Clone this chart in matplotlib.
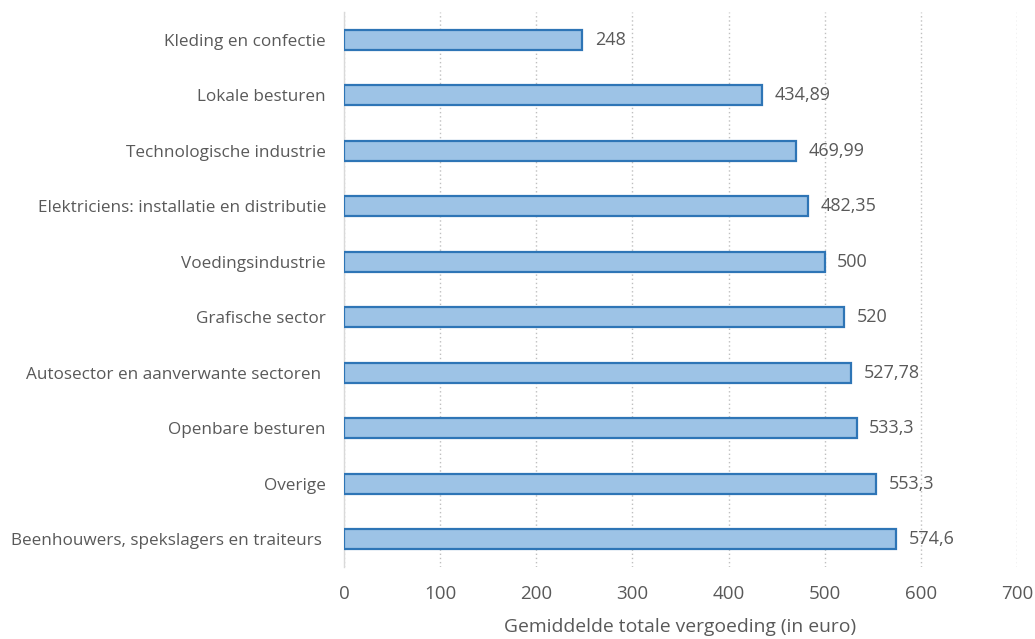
import matplotlib.pyplot as plt

sectors = [
    "Kleding en confectie",
    "Lokale besturen",
    "Technologische industrie",
    "Elektriciens: installatie en distributie",
    "Voedingsindustrie",
    "Grafische sector",
    "Autosector en aanverwante sectoren ",
    "Openbare besturen",
    "Overige",
    "Beenhouwers, spekslagers en traiteurs ",
]
values = [248, 434.89, 469.99, 482.35, 500, 520, 527.78, 533.3, 553.3, 574.6]
labels = ["248", "434,89", "469,99", "482,35", "500", "520", "527,78", "533,3", "553,3", "574,6"]
xticks = [0, 100, 200, 300, 400, 500, 600, 700]

plt.rcParams['font.family'] = ['Open Sans', 'DejaVu Sans']
text_color = "#595959"

fig = plt.figure(figsize=(10.35, 6.39), dpi=100)
ax = fig.add_axes([0.3324, 0.1127, 0.6502, 0.8685])

pos = list(range(len(sectors)))
ax.barh(pos, values, height=0.36, color="#9DC3E6", edgecolor="#2E75B6", linewidth=1.6, zorder=3)
for p, v, lab in zip(pos, values, labels):
    ax.annotate(lab, (v, p), xytext=(9, 0), textcoords="offset points",
                va="center", ha="left", fontsize=13, color=text_color)

ax.set_ylim(len(sectors) - 0.5, -0.5)
ax.set_yticks(pos)
ax.set_yticklabels(sectors, fontsize=12.3, color=text_color)
ax.set_xlim(0, 700)
ax.set_xticks(xticks)
ax.set_xticklabels([str(t) for t in xticks], fontsize=13.5, color=text_color)
ax.set_xlabel("Gemiddelde totale vergoeding (in euro)", fontsize=13.9, color=text_color, labelpad=11)

ax.tick_params(axis="y", length=0, pad=13)
ax.tick_params(axis="x", length=0, pad=13)
ax.grid(axis="x", linestyle=(0, (1, 2)), color="#BFBFBF", linewidth=1, zorder=0)
for side in ["top", "right", "bottom"]:
    ax.spines[side].set_visible(False)
ax.spines["left"].set_color("#D9D9D9")
ax.spines["left"].set_linewidth(1)

fig.savefig("out.png", dpi=100)
